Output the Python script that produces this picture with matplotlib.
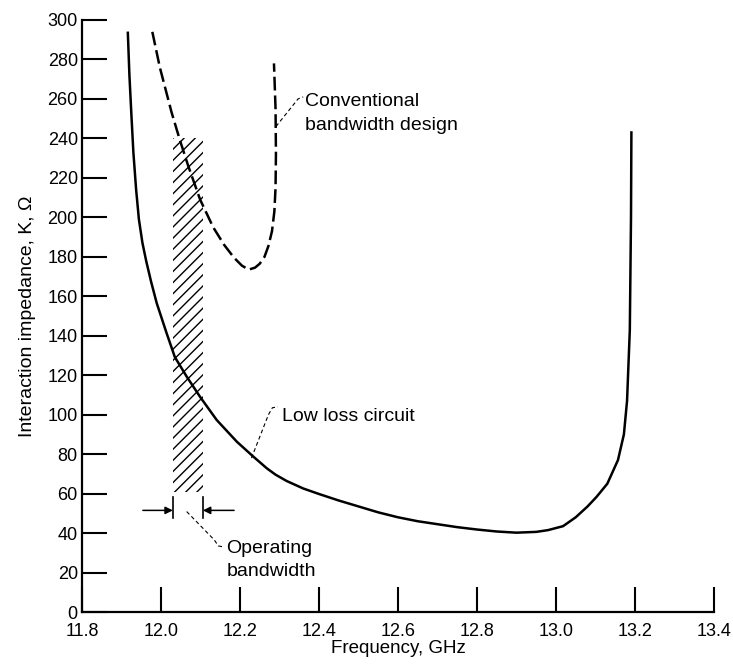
import matplotlib
matplotlib.use('Agg')
import matplotlib.pyplot as plt

plt.rcParams['font.family'] = ['Liberation Sans', 'DejaVu Sans']
plt.rcParams['hatch.linewidth'] = 1.0

# low loss circuit (solid)
low_f = [11.916, 11.920, 11.925, 11.930, 11.937, 11.944, 11.953, 11.963, 11.975,
         11.989, 12.014, 12.035, 12.065, 12.099, 12.141, 12.192, 12.234, 12.268,
         12.29, 12.318, 12.36, 12.40, 12.45, 12.50, 12.55, 12.60, 12.65, 12.70,
         12.75, 12.80, 12.85, 12.90, 12.95, 12.98, 13.018, 13.05, 13.08, 13.103,
         13.13, 13.157, 13.172, 13.18, 13.187, 13.19, 13.191]
low_k = [293.5, 272, 252, 233, 214, 199, 187, 177.4, 167.3,
         156.6, 141.4, 129.2, 119.3, 109, 97.3, 86.3, 78.7, 72.8,
         69.6, 66.4, 62.6, 59.8, 56.5, 53.5, 50.5, 48, 46, 44.5,
         43, 41.8, 40.8, 40.2, 40.6, 41.5, 43.5, 48, 53.5, 58.4,
         65, 77, 90, 107, 143, 200, 243]

# conventional bandwidth design (dashed)
conv_f = [11.978, 11.997, 12.027, 12.048, 12.069, 12.099, 12.132, 12.160, 12.185,
          12.205, 12.222, 12.238, 12.250, 12.262, 12.272, 12.281, 12.287, 12.290,
          12.291, 12.290, 12.286]
conv_k = [294, 276, 253, 239, 226, 209, 195, 186, 179.5,
          175.5, 173.5, 174.5, 176.5, 180, 185.5, 193, 203, 215,
          232, 255, 278]

# operating bandwidth
band = [12.03, 12.106]
band_k = [61, 240]
arrow_k = 51.5

xticks = [11.8, 12.0, 12.2, 12.4, 12.6, 12.8, 13.0, 13.2, 13.4]
yticks = list(range(0, 301, 20))

fig = plt.figure(figsize=(7.33, 6.64), dpi=100)
ax = fig.add_axes([0.1119, 0.0783, 0.974 - 0.1119, 0.9699 - 0.0783])

ax.plot(low_f, low_k, color='black', lw=1.8, solid_joinstyle='round')
ax.plot(conv_f, conv_k, color='black', lw=1.8, linestyle=(0, (5.5, 2.0)))

ax.fill_between(band, band_k[0], band_k[1], facecolor='none', edgecolor='black',
                hatch='///', linewidth=0)

# bandwidth markers
for b in band:
    ax.plot([b, b], [47.5, 58.3], color='black', lw=1.2)
ax.annotate('', xy=(band[0], arrow_k), xytext=(11.954, arrow_k),
            arrowprops=dict(arrowstyle='-|>', color='black', lw=1.1, mutation_scale=11,
                            shrinkA=0, shrinkB=0))
ax.annotate('', xy=(band[1], arrow_k), xytext=(12.185, arrow_k),
            arrowprops=dict(arrowstyle='-|>', color='black', lw=1.1, mutation_scale=11,
                            shrinkA=0, shrinkB=0))

# leader lines and labels
lead = dict(color='black', lw=0.8, linestyle=(0, (3.5, 2.5)))
ax.plot([12.229, 12.272, 12.282, 12.296], [78, 100, 103.5, 104], **lead)
ax.text(12.306, 99.3, 'Low loss circuit', fontsize=14, va='center', ha='left')

ax.plot([12.291, 12.335, 12.347, 12.36], [246, 257, 260, 261], **lead)
ax.text(12.365, 258.5, 'Conventional', fontsize=14, va='center', ha='left')
ax.text(12.365, 246.5, 'bandwidth design', fontsize=14, va='center', ha='left')

ax.plot([12.065, 12.135, 12.145, 12.158], [50.9, 36.5, 33.5, 33], **lead)
ax.text(12.166, 32.4, 'Operating', fontsize=14, va='center', ha='left')
ax.text(12.166, 20.4, 'bandwidth', fontsize=14, va='center', ha='left')

ax.set_xlim(11.8, 13.4)
ax.set_ylim(0, 300)
ax.set_xticks(xticks)
ax.set_xticklabels(['%.1f' % v for v in xticks])
ax.set_yticks(yticks)
ax.tick_params(direction='in', length=18, width=1.5, labelsize=13)
ax.tick_params(axis='x', pad=8)
ax.tick_params(axis='y', pad=3)
for s in ['top', 'right']:
    ax.spines[s].set_visible(False)
for s in ['left', 'bottom']:
    ax.spines[s].set_linewidth(1.6)

ax.set_xlabel('Frequency, GHz', fontsize=13.5, labelpad=0)
ax.set_ylabel('Interaction impedance, K, \u03a9', fontsize=14, labelpad=8)

fig.savefig('out.png', dpi=100)
